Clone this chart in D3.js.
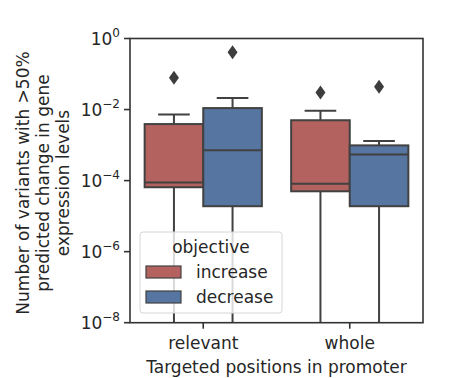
<!DOCTYPE html>
<html><head><meta charset="utf-8">
<script src="https://cdn.jsdelivr.net/npm/d3@7"></script>
<style>body{margin:0;background:#fff}svg{display:block;font-family:"DejaVu Sans",sans-serif}</style>
</head><body><svg id="c" width="468" height="378"></svg>
<script>
const categories = ["relevant", "whole"];
const hues = ["increase", "decrease"];
const colors = ["#b4625f", "#5675a1"];
// [whiskerLow, q1, median, q3, whiskerHigh]
const increaseStats = [[1e-9, 6.5e-5, 8.9e-5, 3.9e-3, 7.2e-3], [1e-9, 5.0e-5, 8.1e-5, 5.0e-3, 9.3e-3]];
const decreaseStats = [[1e-9, 1.9e-5, 7.1e-4, 1.1e-2, 2.1e-2], [1e-9, 1.9e-5, 5.4e-4, 9.8e-4, 1.3e-3]];
const increaseOutliers = [[7.9e-2], [3.0e-2]];
const decreaseOutliers = [[4.1e-1], [4.4e-2]];
const yTicks = [1e0, 1e-2, 1e-4, 1e-6, 1e-8];
const yTickExp = ["0", "\u22122", "\u22124", "\u22126", "\u22128"];

const svg = d3.select("#c");
const L = 130, R = 423, T = 38.5, B = 322.7;
const x = d3.scaleBand().domain(categories).range([L, R]);
const hx = d3.scaleBand().domain(hues).range([0, x.bandwidth() * 0.8]);
const y = d3.scaleLog().domain([1e-8, 1e0]).range([B, T]);
const edge = "#414141";

svg.append("clipPath").attr("id", "clip").append("rect")
  .attr("x", L).attr("y", T).attr("width", R - L).attr("height", B - T);
const g = svg.append("g").attr("clip-path", "url(#clip)");

const stats = [increaseStats, decreaseStats];
const outs = [increaseOutliers, decreaseOutliers];
categories.forEach((cat, ci) => {
  hues.forEach((h, hi) => {
    const s = stats[hi][ci];
    const x0 = x(cat) + x.bandwidth() * 0.1 + hx(h);
    const w = hx.bandwidth();
    const cx = x0 + w / 2;
    const cap = w * 0.54;
    // whiskers
    g.append("line").attr("x1", cx).attr("x2", cx).attr("y1", y(s[3])).attr("y2", y(s[4]))
      .attr("stroke", edge).attr("stroke-width", 2);
    g.append("line").attr("x1", cx).attr("x2", cx).attr("y1", y(s[1])).attr("y2", y(s[0]))
      .attr("stroke", edge).attr("stroke-width", 2);
    g.append("line").attr("x1", cx - cap / 2).attr("x2", cx + cap / 2).attr("y1", y(s[4])).attr("y2", y(s[4]))
      .attr("stroke", edge).attr("stroke-width", 2);
    // box
    g.append("rect").attr("x", x0).attr("width", w).attr("y", y(s[3])).attr("height", y(s[1]) - y(s[3]))
      .attr("fill", colors[hi]).attr("stroke", edge).attr("stroke-width", 2);
    g.append("line").attr("x1", x0).attr("x2", x0 + w).attr("y1", y(s[2])).attr("y2", y(s[2]))
      .attr("stroke", edge).attr("stroke-width", 2);
    outs[hi][ci].forEach(v => {
      const py = y(v);
      g.append("path").attr("d", `M${cx},${py - 7}L${cx + 5},${py}L${cx},${py + 7}L${cx - 5},${py}Z`)
        .attr("fill", "#3d3d3d");
    });
  });
});

// spines
svg.append("rect").attr("x", L).attr("y", T).attr("width", R - L).attr("height", B - T)
  .attr("fill", "none").attr("stroke", "#333").attr("stroke-width", 1.6);

// y ticks
yTicks.forEach((t, i) => {
  const ty = y(t);
  svg.append("line").attr("x1", L - 6).attr("x2", L).attr("y1", ty).attr("y2", ty)
    .attr("stroke", "#333").attr("stroke-width", 1.6);
  const tx = svg.append("text").attr("x", L - 10).attr("y", ty + 6).attr("text-anchor", "end")
    .attr("font-size", 17).attr("fill", "#262626");
  tx.append("tspan").text("10");
  tx.append("tspan").attr("dy", -8).attr("font-size", 12).text(yTickExp[i]);
});
// x ticks
categories.forEach(c => {
  const cx = x(c) + x.bandwidth() / 2;
  svg.append("line").attr("x1", cx).attr("x2", cx).attr("y1", B).attr("y2", B + 6)
    .attr("stroke", "#333").attr("stroke-width", 1.6);
  svg.append("text").attr("x", cx).attr("y", B + 26).attr("text-anchor", "middle")
    .attr("font-size", 17).attr("fill", "#262626").text(c);
});
svg.append("text").attr("x", (L + R) / 2).attr("y", 373).attr("text-anchor", "middle")
  .attr("font-size", 17).attr("fill", "#262626").text("Targeted positions in promoter");

const ylab = ["Number of variants with >50%", "predicted change in gene", "expression levels"];
ylab.forEach((t, i) => {
  svg.append("text").attr("transform", `translate(${29 + i * 20},${183}) rotate(-90)`)
    .attr("text-anchor", "middle").attr("font-size", 17).attr("fill", "#262626").text(t);
});

// legend
const lg = svg.append("g");
lg.append("rect").attr("x", 140).attr("y", 232).attr("width", 142).attr("height", 81).attr("rx", 3)
  .attr("fill", "white").attr("fill-opacity", 0.8).attr("stroke", "#d6d6d6").attr("stroke-width", 1);
lg.append("text").attr("x", 211).attr("y", 253).attr("text-anchor", "middle").attr("font-size", 17)
  .attr("fill", "#262626").text("objective");
hues.forEach((h, i) => {
  lg.append("rect").attr("x", 146).attr("y", 266 + i * 25).attr("width", 35).attr("height", 12)
    .attr("fill", colors[i]).attr("stroke", edge).attr("stroke-width", 1.2);
  lg.append("text").attr("x", 196).attr("y", 278 + i * 25).attr("font-size", 17)
    .attr("fill", "#262626").text(h);
});
</script></body></html>
